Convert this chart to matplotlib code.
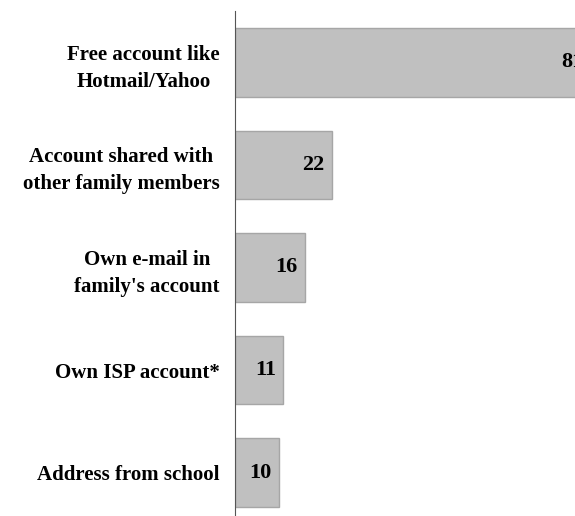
import matplotlib.pyplot as plt

categorias = ["Free account like\nHotmail/Yahoo",
              "Account shared with\nother family members",
              "Own e-mail in\nfamily's account",
              "Own ISP account*",
              "Address from school"]
valores = [81, 22, 16, 11, 10]

plt.rcParams['font.family'] = ['Liberation Serif', 'DejaVu Serif']

fig = plt.figure(figsize=(5.75, 5.16), dpi=100)
# eixo começa em x=235px e passa da borda direita (barra de 81 fica cortada)
ax = fig.add_axes([235/575, -8/516, (591-235)/575, 513/516])

pos = list(range(len(valores)))
ax.barh(pos, valores, height=0.67, color='#c0c0c0', edgecolor='#a6a6a6', linewidth=1)
ax.set_ylim(len(valores) - 0.5, -0.5)
ax.set_xlim(0, 81)

for i in pos:
    ax.text(valores[i] - 1.7, i, str(valores[i]), ha='right', va='center',
            fontsize=16, fontweight='bold')

ax.set_yticks(pos)
ax.set_yticklabels(categorias, fontsize=15, fontweight='bold',
                   multialignment='center', linespacing=1.45)
ax.tick_params(axis='y', length=0, pad=11)
ax.set_xticks([])
for s in ['top', 'right', 'bottom']:
    ax.spines[s].set_visible(False)
ax.spines['left'].set_color('#555555')

fig.savefig('out.png', dpi=100)
